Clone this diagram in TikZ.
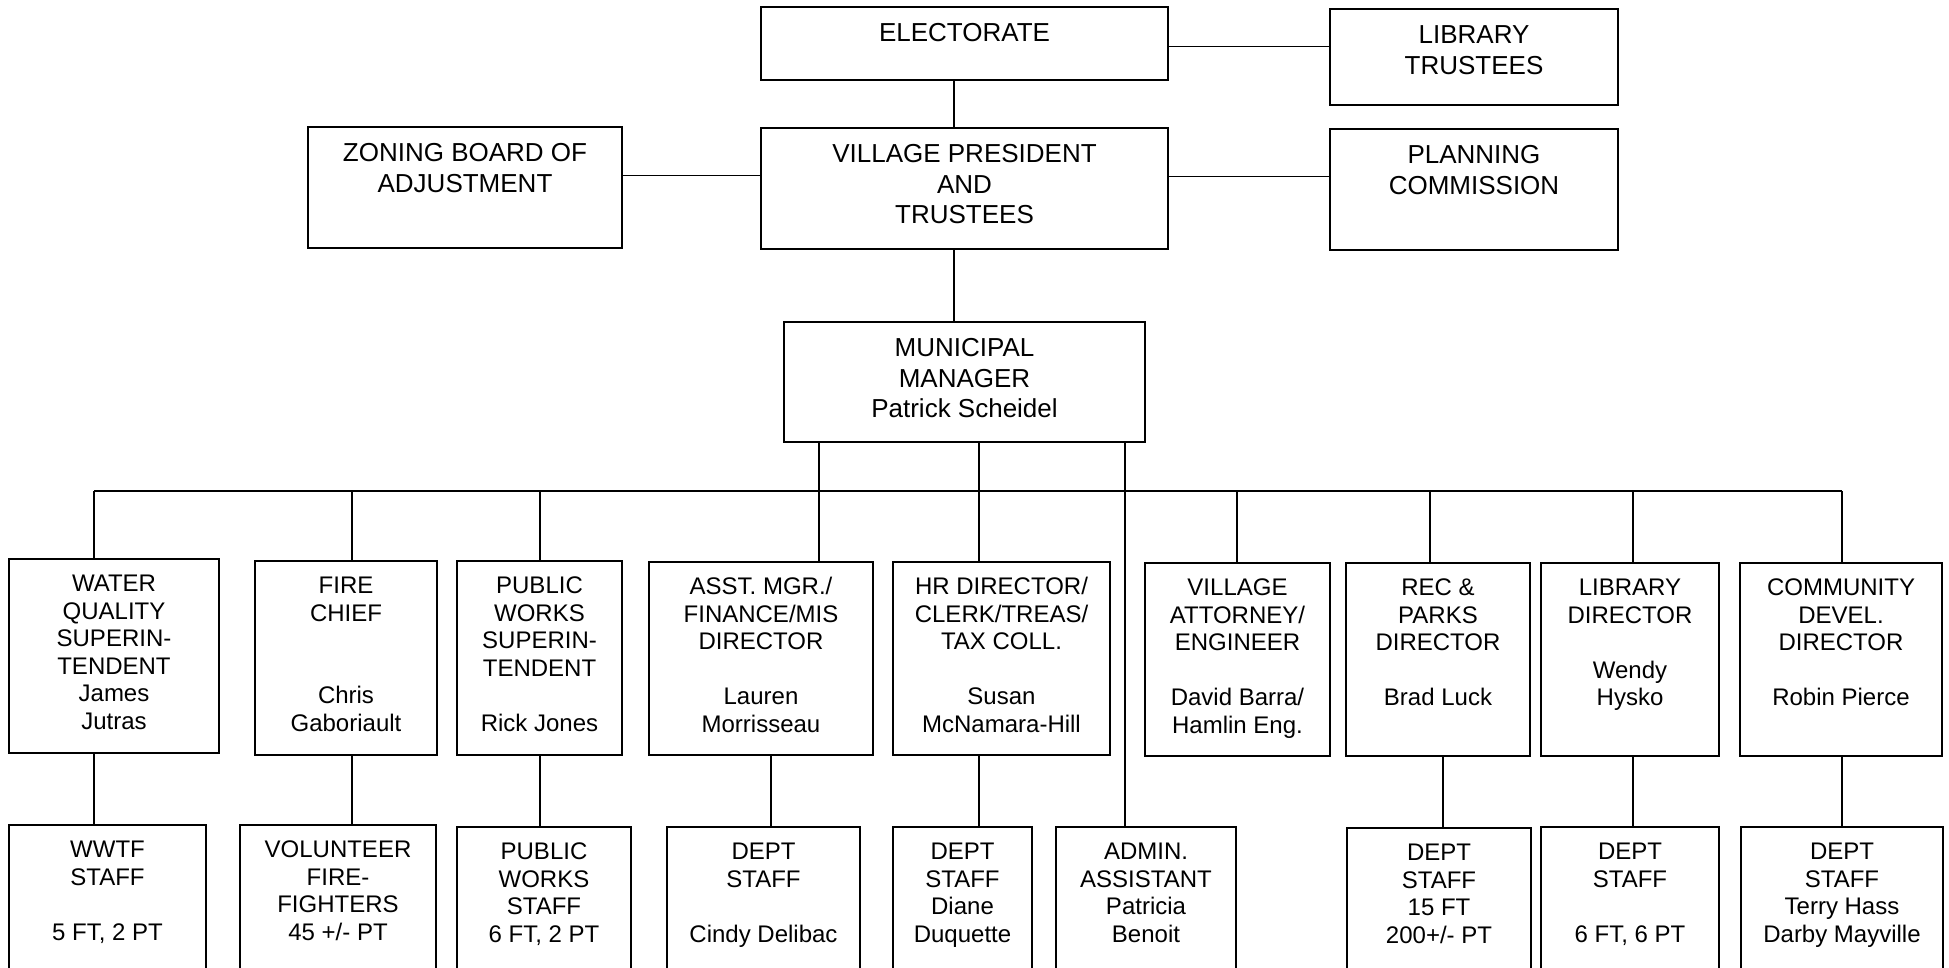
\documentclass[tikz,border=0pt]{standalone}
\usepackage{fontspec}
\setmainfont{Liberation Sans}
\tikzset{
  bx/.style={draw=black, line width=1.6pt, inner sep=0pt},
  bigt/.style={anchor=north, inner sep=0pt, align=center, font=\fontsize{26}{30.5}\selectfont},
  smt/.style={anchor=north, inner sep=0pt, align=center, font=\fontsize{24}{27.5}\selectfont},
  conn/.style={draw=black, line width=1.5pt},
}
\newcommand{\orgbox}[7]{%
  \node[bx, minimum width={(#4-#2)*1pt}, minimum height={(#5-#3)*1pt}] (#1) at ({(#2+#4)/2},{(#3+#5)/2}) {};
  \node[#6] (#1-t) at ([yshift=-14pt]#1.north) {\strut #7};
}
\begin{document}
\begin{tikzpicture}[x=1pt,y=-1pt]
\useasboundingbox (0,0) rectangle (1949,968);
\clip (0,0) rectangle (1949,968);
\fill[white] (0,0) rectangle (1949,968);
% top group
\orgbox{elec}{761}{7}{1168}{80}{bigt}{ELECTORATE}
\orgbox{lib}{1330}{9}{1618}{105}{bigt}{LIBRARY\\TRUSTEES}
\orgbox{zoning}{308}{127}{622}{248}{bigt}{ZONING BOARD OF\\ADJUSTMENT}
\orgbox{pres}{761}{128}{1168}{249}{bigt}{VILLAGE PRESIDENT\\AND\\TRUSTEES}
\orgbox{plan}{1330}{129}{1618}{250}{bigt}{PLANNING\\COMMISSION}
\orgbox{mgr}{784}{322}{1145}{442}{bigt}{MUNICIPAL\\MANAGER\\Patrick Scheidel}
% department heads
\orgbox{water}{9}{559}{219}{753}{smt}{WATER\\QUALITY\\SUPERIN-\\TENDENT\\James\\Jutras}
\orgbox{fire}{255}{561}{437}{755}{smt}{FIRE\\CHIEF\\\strut\\\strut\\Chris\\Gaboriault}
\orgbox{pubw}{457}{561}{622}{755}{smt}{PUBLIC\\WORKS\\SUPERIN-\\TENDENT\\\strut\\Rick Jones}
\orgbox{asst}{649}{562}{873}{755}{smt}{ASST. MGR./\\FINANCE/MIS\\DIRECTOR\\\strut\\Lauren\\Morrisseau}
\orgbox{hr}{893}{562}{1110}{755}{smt}{HR DIRECTOR/\\CLERK/TREAS/\\TAX COLL.\\\strut\\Susan\\McNamara-Hill}
\orgbox{atty}{1145}{563}{1330}{756}{smt}{VILLAGE\\ATTORNEY/\\ENGINEER\\\strut\\David Barra/\\Hamlin Eng.}
\orgbox{rec}{1346}{563}{1530}{756}{smt}{REC \&\\PARKS\\DIRECTOR\\\strut\\Brad Luck}
\orgbox{libd}{1541}{563}{1719}{756}{smt}{LIBRARY\\DIRECTOR\\\strut\\Wendy\\Hysko}
\orgbox{comm}{1740}{563}{1942}{756}{smt}{COMMUNITY\\DEVEL.\\DIRECTOR\\\strut\\Robin Pierce}
% staff row
\orgbox{wwtf}{9}{825}{206}{995}{smt}{WWTF\\STAFF\\\strut\\5 FT, 2 PT}
\orgbox{vol}{240}{825}{436}{995}{smt}{VOLUNTEER\\FIRE-\\FIGHTERS\\45 +/- PT}
\orgbox{pws}{457}{827}{631}{995}{smt}{PUBLIC\\WORKS\\STAFF\\6 FT, 2 PT}
\orgbox{dpa}{667}{827}{860}{995}{smt}{DEPT\\STAFF\\\strut\\Cindy Delibac}
\orgbox{dpb}{893}{827}{1032}{995}{smt}{DEPT\\STAFF\\Diane\\Duquette}
\orgbox{admin}{1056}{827}{1236}{995}{smt}{ADMIN.\\ASSISTANT\\Patricia\\Benoit}
\orgbox{dpc}{1347}{828}{1531}{995}{smt}{DEPT\\STAFF\\15 FT\\200+/- PT}
\orgbox{dpd}{1541}{827}{1719}{995}{smt}{DEPT\\STAFF\\\strut\\6 FT, 6 PT}
\orgbox{dpe}{1741}{827}{1943}{995}{smt}{DEPT\\STAFF\\Terry Hass\\Darby Mayville}
% upper connectors
\draw[conn] ([yshift=-3.2pt]elec.east) -- ([yshift=-3.2pt]elec.east -| lib.west);
\draw[conn] ([xshift=-10.5pt]elec.south) -- ([xshift=-10.5pt]elec.south |- pres.north);
\draw[conn] ([yshift=11.8pt]zoning.east) -- ([yshift=11.8pt]zoning.east -| pres.west);
\draw[conn] ([yshift=11.8pt]pres.east) -- ([yshift=11.8pt]pres.east -| plan.west);
\draw[conn] ([xshift=-10.5pt]pres.south) -- ([xshift=-10.5pt]pres.south |- mgr.north);
% bus
\coordinate (k1) at (94,491);
\coordinate (k2) at (352,491);
\coordinate (k3) at (540,491);
\coordinate (k4) at (819,491);
\coordinate (k5) at (979,491);
\coordinate (k6) at (1125,491);
\coordinate (k7) at (1237,491);
\coordinate (k8) at (1430,491);
\coordinate (k9) at (1633,491);
\coordinate (k10) at (1842,491);
\coordinate (s4) at (771,491);
\coordinate (s8) at (1443,491);
\draw[conn] (k1) -- (k10);
\draw[conn] (k4 |- mgr.south) -- (k4 |- asst.north);
\draw[conn] (k5 |- mgr.south) -- (k5 |- hr.north);
\draw[conn] (k6 |- mgr.south) -- (k6 |- admin.north);
\draw[conn] (k1) -- (k1 |- water.north);
\draw[conn] (k2) -- (k2 |- fire.north);
\draw[conn] (k3) -- (k3 |- pubw.north);
\draw[conn] (k7) -- (k7 |- atty.north);
\draw[conn] (k8) -- (k8 |- rec.north);
\draw[conn] (k9) -- (k9 |- libd.north);
\draw[conn] (k10) -- (k10 |- comm.north);
% heads to staff
\draw[conn] (k1 |- water.south) -- (k1 |- wwtf.north);
\draw[conn] (k2 |- fire.south) -- (k2 |- vol.north);
\draw[conn] (k3 |- pubw.south) -- (k3 |- pws.north);
\draw[conn] (s4 |- asst.south) -- (s4 |- dpa.north);
\draw[conn] (k5 |- hr.south) -- (k5 |- dpb.north);
\draw[conn] (s8 |- rec.south) -- (s8 |- dpc.north);
\draw[conn] (k9 |- libd.south) -- (k9 |- dpd.north);
\draw[conn] (k10 |- comm.south) -- (k10 |- dpe.north);
\end{tikzpicture}
\end{document}
